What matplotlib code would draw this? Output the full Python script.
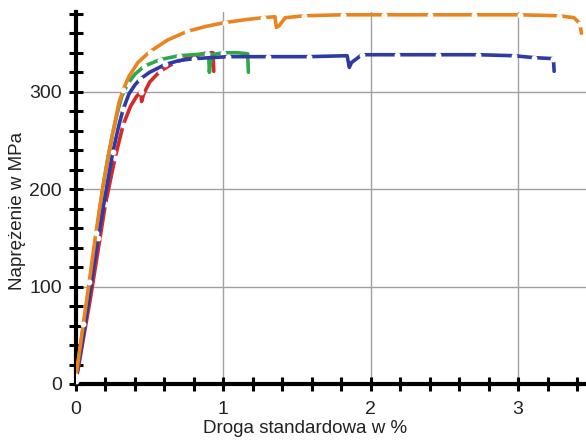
import numpy as np
import matplotlib.pyplot as plt
from matplotlib.ticker import MultipleLocator

# stress-strain curves (strain in %, stress in MPa)
orangeX = [0.0, 0.05, 0.09, 0.135, 0.18, 0.22, 0.26, 0.29, 0.32, 0.36, 0.42, 0.5, 0.62, 0.755,
           0.88, 1.01, 1.15, 1.27, 1.35, 1.36, 1.38, 1.42, 1.55, 1.81, 2.09, 2.40, 2.70, 3.01,
           3.28, 3.38, 3.42, 3.43]
orangeY = [8, 62, 105, 155, 200, 235, 265, 288, 302, 316, 330, 341, 353, 362,
           367, 371, 374, 376, 377, 366, 368, 376, 378, 379, 379, 379, 379, 379,
           378, 376, 370, 360]

blueX = [0.0, 0.05, 0.1, 0.15, 0.2, 0.25, 0.29, 0.32, 0.36, 0.40, 0.435, 0.5, 0.605, 0.7,
         0.8, 1.03, 1.30, 1.58, 1.84, 1.855, 1.87, 1.94, 2.18, 2.46, 2.73, 2.97, 3.11, 3.24, 3.245]
blueY = [5, 50, 100, 150, 195, 238, 265, 282, 298, 307, 313, 320, 328, 332,
         334, 336, 336, 336, 337, 325, 330, 338, 338, 338, 338, 337, 335, 334, 321]

greenX = [0.0, 0.09, 0.18, 0.22, 0.25, 0.28, 0.31, 0.35, 0.40, 0.46, 0.57, 0.7, 0.89, 0.9,
          0.905, 0.92, 1.0, 1.1, 1.165, 1.17]
greenY = [8, 100, 200, 235, 258, 278, 295, 308, 318, 326, 333, 337, 339, 339,
          320, 338, 340, 340, 339, 320]

redX = [0.0, 0.1, 0.2, 0.265, 0.32, 0.37, 0.41, 0.44, 0.445, 0.46, 0.5, 0.57, 0.67, 0.78,
        0.89, 0.93, 0.935]
redY = [3, 90, 185, 232, 266, 285, 295, 300, 290, 298, 310, 321, 330, 336,
        340, 340, 321]

curves = [
    (redX, redY, '#d42a2a', [0, 2, 3, 4, 7, 11, 12, 14]),
    (greenX, greenY, '#2fa84a', [0, 2, 4, 7, 9, 10, 11, 12, 16]),
    (blueX, blueY, '#2f3aa6', [0, 3, 5, 7, 10, 12, 14, 15, 16, 17, 21, 22, 23, 24, 25, 26, 27]),
    (orangeX, orangeY, '#ea8420', [0, 1, 2, 3, 8, 11, 13, 15, 17, 22, 23, 24, 25, 26, 27, 28, 30]),
]

plt.rcParams['font.family'] = ['Liberation Sans', 'DejaVu Sans']

fig = plt.figure(figsize=(5.86, 4.43), dpi=100)
ax = fig.add_axes([0.1297, 0.1332, 0.870, 0.840])

for x, y, c, marks in curves:
    ax.plot(x, y, color=c, linewidth=2.6, solid_capstyle='round', solid_joinstyle='round',
            marker='o', markersize=3.2, markerfacecolor='white', markeredgecolor='white',
            markevery=marks, zorder=3)

ax.set_xlim(0, 3.46)
ax.set_ylim(0, 382)
ax.xaxis.set_major_locator(MultipleLocator(1))
ax.xaxis.set_minor_locator(MultipleLocator(0.2))
ax.yaxis.set_major_locator(MultipleLocator(100))
ax.yaxis.set_minor_locator(MultipleLocator(20))

ax.grid(True, which='major', color='#a0a0a0', linewidth=1.0, zorder=0)
for s in ['top', 'right']:
    ax.spines[s].set_visible(False)
for s in ['left', 'bottom']:
    ax.spines[s].set_linewidth(3)
    ax.spines[s].set_color('black')

ax.tick_params(which='both', direction='inout', length=10, width=2.2, color='black')
ax.tick_params(which='major', labelsize=14, labelcolor='#222222')
ax.tick_params(axis='x', which='major', pad=7)
ax.tick_params(axis='y', which='major', pad=5)

ax.set_xlabel('Droga standardowa w %', fontsize=13.5, color='#222222')
ax.set_ylabel('Naprężenie w MPa', fontsize=13.5, color='#222222')
ax.xaxis.set_label_coords(0.45, -0.098)
ax.yaxis.set_label_coords(-0.098, 0.465)

fig.savefig('out.png', dpi=100)
